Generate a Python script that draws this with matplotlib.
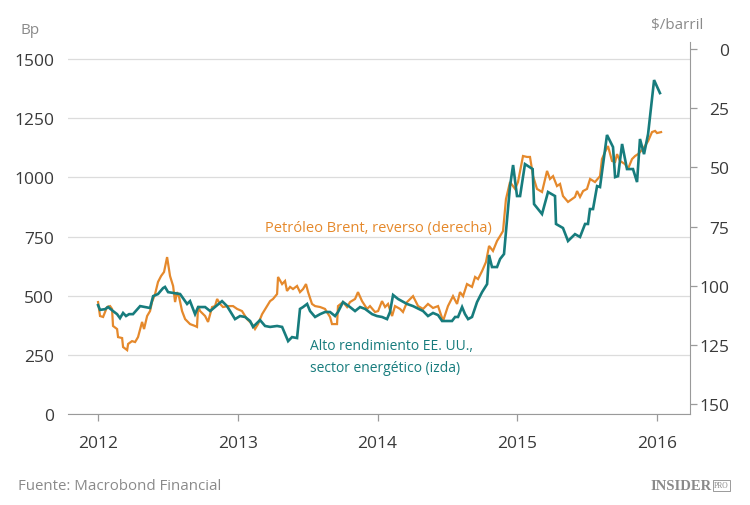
import matplotlib.pyplot as plt
from matplotlib.patches import Rectangle

plt.rcParams['font.family'] = ['Open Sans', 'DejaVu Sans']

# Alto rendimiento EE. UU., sector energético (Bp, eje izquierdo)
hy_t = [2012.00, 2012.014, 2012.050, 2012.072, 2012.107, 2012.136, 2012.157, 2012.179,
        2012.200, 2012.222, 2012.250, 2012.301, 2012.336, 2012.372, 2012.394, 2012.429,
        2012.465, 2012.479, 2012.501, 2012.587, 2012.637, 2012.658, 2012.694, 2012.716,
        2012.766, 2012.802, 2012.887, 2012.923, 2012.980, 2013.016, 2013.052, 2013.088,
        2013.109, 2013.159, 2013.195, 2013.231, 2013.281, 2013.317, 2013.360, 2013.388,
        2013.424, 2013.445, 2013.467, 2013.496, 2013.517, 2013.553, 2013.589, 2013.624,
        2013.660, 2013.696, 2013.717, 2013.753, 2013.803, 2013.839, 2013.875, 2013.911,
        2013.961, 2013.996, 2014.032, 2014.068, 2014.089, 2014.111, 2014.147, 2014.211,
        2014.254, 2014.326, 2014.361, 2014.397, 2014.433, 2014.462, 2014.483, 2014.533,
        2014.555, 2014.576, 2014.605, 2014.626, 2014.648, 2014.676, 2014.712, 2014.748,
        2014.784, 2014.798, 2014.819, 2014.855, 2014.877, 2014.905, 2014.927, 2014.948,
        2014.970, 2014.998, 2015.020, 2015.055, 2015.110, 2015.120, 2015.177, 2015.220,
        2015.270, 2015.277, 2015.327, 2015.363, 2015.413, 2015.449, 2015.485, 2015.506,
        2015.520, 2015.542, 2015.571, 2015.592, 2015.642, 2015.685, 2015.700, 2015.721,
        2015.750, 2015.785, 2015.828, 2015.857, 2015.878, 2015.907, 2015.936, 2015.979,
        2016.021]
hy_v = [460, 440, 443, 452, 435, 422, 405, 427,
        414, 422, 422, 456, 452, 448, 498, 507,
        532, 537, 515, 507, 465, 477, 422, 452,
        452, 435, 477, 456, 401, 414, 410, 393,
        368, 397, 372, 368, 372, 368, 308, 325,
        321, 444, 452, 465, 435, 410, 422, 431,
        431, 414, 431, 473, 452, 435, 452, 444,
        422, 414, 410, 401, 431, 503, 486, 465,
        456, 435, 414, 427, 418, 393, 393, 393,
        410, 410, 452, 422, 401, 410, 473, 515,
        549, 672, 621, 621, 655, 676, 824, 963,
        1052, 921, 921, 1056, 1035, 887, 845, 938,
        921, 803, 786, 731, 760, 748, 803, 803,
        866, 866, 963, 959, 1179, 1128, 1001, 1005,
        1141, 1035, 1035, 980, 1162, 1098, 1183, 1411,
        1356]

# Petróleo Brent ($/barril, eje derecho invertido)
br_t = [2012.000, 2012.014, 2012.036, 2012.064, 2012.086, 2012.100, 2012.107, 2012.136,
        2012.143, 2012.172, 2012.179, 2012.208, 2012.215, 2012.243, 2012.265, 2012.286,
        2012.315, 2012.329, 2012.351, 2012.372, 2012.386, 2012.408, 2012.429, 2012.451,
        2012.472, 2012.494, 2012.515, 2012.537, 2012.551, 2012.565, 2012.580, 2012.601,
        2012.623, 2012.658, 2012.694, 2012.708, 2012.716, 2012.730, 2012.766, 2012.787,
        2012.816, 2012.837, 2012.852, 2012.873, 2012.894, 2012.930, 2012.966, 2012.995,
        2013.030, 2013.066, 2013.102, 2013.123, 2013.145, 2013.174, 2013.209, 2013.231,
        2013.252, 2013.281, 2013.288, 2013.317, 2013.338, 2013.352, 2013.374, 2013.395,
        2013.424, 2013.445, 2013.467, 2013.488, 2013.503, 2013.531, 2013.553, 2013.589,
        2013.624, 2013.660, 2013.674, 2013.710, 2013.717, 2013.753, 2013.782, 2013.803,
        2013.839, 2013.860, 2013.889, 2013.925, 2013.946, 2013.982, 2014.004, 2014.032,
        2014.054, 2014.075, 2014.104, 2014.125, 2014.161, 2014.182, 2014.211, 2014.254,
        2014.290, 2014.326, 2014.361, 2014.397, 2014.433, 2014.469, 2014.504, 2014.540,
        2014.569, 2014.590, 2014.612, 2014.640, 2014.676, 2014.698, 2014.719, 2014.748,
        2014.776, 2014.798, 2014.826, 2014.855, 2014.877, 2014.898, 2014.919, 2014.948,
        2014.984, 2015.005, 2015.041, 2015.070, 2015.091, 2015.113, 2015.141, 2015.177,
        2015.213, 2015.234, 2015.256, 2015.284, 2015.306, 2015.327, 2015.363, 2015.392,
        2015.413, 2015.428, 2015.449, 2015.471, 2015.499, 2015.521, 2015.556, 2015.592,
        2015.606, 2015.628, 2015.649, 2015.678, 2015.700, 2015.714, 2015.735, 2015.771,
        2015.792, 2015.821, 2015.843, 2015.864, 2015.900, 2015.936, 2015.964, 2015.986,
        2016.000, 2016.029]
br_v = [106.9, 112.8, 113.2, 109.0, 108.6, 109.8, 117.0, 118.3,
        121.7, 122.1, 125.9, 127.2, 124.6, 123.4, 123.8, 121.7,
        115.3, 118.3, 112.8, 110.7, 106.9, 103.5, 98.4, 95.9,
        94.2, 87.9, 95.9, 100.1, 106.9, 102.7, 104.8, 110.7,
        114.1, 116.2, 117.0, 117.4, 108.6, 110.7, 112.8, 115.3,
        109.0, 108.6, 105.6, 107.7, 109.0, 108.6, 108.6, 109.8,
        110.7, 114.1, 116.2, 118.3, 116.2, 112.0, 108.6, 106.5,
        105.6, 103.5, 96.3, 99.3, 98.0, 102.2, 100.5, 101.4,
        100.1, 102.7, 101.4, 99.3, 102.7, 107.7, 108.6, 109.0,
        109.8, 113.2, 116.2, 116.2, 108.6, 106.9, 109.0, 106.9,
        105.6, 102.7, 106.5, 109.8, 108.6, 111.1, 110.7, 106.5,
        109.0, 107.7, 112.8, 108.6, 109.8, 111.1, 106.9, 104.4,
        108.6, 109.8, 107.7, 109.4, 108.6, 114.9, 108.6, 104.4,
        107.7, 102.7, 104.4, 99.3, 100.5, 96.3, 97.2, 93.8,
        90.0, 83.2, 85.3, 81.1, 79.0, 76.9, 63.4, 56.2,
        59.1, 56.2, 45.2, 45.6, 45.6, 53.7, 59.1, 60.4,
        51.5, 54.9, 53.7, 57.9, 57.0, 62.1, 64.6, 63.4,
        62.5, 60.0, 62.5, 60.0, 59.1, 54.9, 56.2, 53.7,
        46.5, 43.5, 41.0, 47.3, 47.7, 44.4, 47.3, 48.6,
        50.7, 46.5, 45.2, 44.4, 42.2, 38.9, 35.1, 34.6,
        35.5, 35.1]

years = [2012, 2013, 2014, 2015, 2016]
left_ticks = [0, 250, 500, 750, 1000, 1250, 1500]
right_ticks = [0, 25, 50, 75, 100, 125, 150]

orange = '#E5892C'
teal = '#177C7D'
txt = '#3a3a3a'
grey = '#8a8a8a'

fig = plt.figure(figsize=(7.5, 5.06), dpi=100)
ax = fig.add_axes([0.0907, 0.1798, 0.8293, 0.7352])
ax2 = ax.twinx()
ax3 = ax.twinx()

ax.set_xlim(2011.785, 2016.236)
ax.set_ylim(0, 1571.8)
ax2.set_ylim(154.2, -2.96)
ax3.set_ylim(0, 1571.8)

ax2.plot(br_t, br_v, color=orange, lw=1.6, solid_joinstyle='miter')
ax3.plot(hy_t, hy_v, color=teal, lw=1.9, solid_joinstyle='miter')
ax3.axis('off')

ax.set_yticks(left_ticks)
ax.set_xticks(years)
ax.set_xticklabels([str(y) for y in years])
ax.grid(axis='y', color='#dcdcdc', lw=0.9)
ax.set_axisbelow(True)
ax.tick_params(axis='y', length=0, pad=10, labelsize=12.5, labelcolor=txt)
ax.tick_params(axis='x', length=5, width=0.9, color='#9a9a9a', pad=10,
               labelsize=12.5, labelcolor=txt)
for s in ['left', 'top', 'right']:
    ax.spines[s].set_visible(False)
ax.spines['bottom'].set_color('#9a9a9a')

ax2.set_yticks(right_ticks)
ax2.tick_params(axis='y', length=5, width=0.9, color='#9a9a9a', pad=23.5,
                labelsize=12.5, labelcolor=txt)
for lab in ax2.get_yticklabels():
    lab.set_horizontalalignment('right')
for s in ['left', 'top', 'bottom']:
    ax2.spines[s].set_visible(False)
ax2.spines['right'].set_color('#9a9a9a')

fig.text(20 / 750, 1 - 30 / 506, 'Bp', fontsize=11, color=grey, va='center')
fig.text(703 / 750, 1 - 25 / 506, '$/barril', fontsize=11, color=grey,
         va='center', ha='right')

ax.text(2013.195, 790, 'Petróleo Brent, reverso (derecha)', color=orange,
        fontsize=10.5, va='center')
ax.text(2013.517, 291, 'Alto rendimiento EE. UU.,', color=teal,
        fontsize=10, va='center')
ax.text(2013.517, 198, 'sector energético (izda)', color=teal,
        fontsize=10, va='center')

fig.text(18 / 750, 1 - 487 / 506, 'Fuente: Macrobond Financial', fontsize=10.8,
         color=grey, va='center')
fig.text(712 / 750, 1 - 487 / 506, 'INSIDER', fontsize=10.5, color=grey,
         va='center', ha='right', family=['Liberation Serif', 'DejaVu Serif'],
         weight='bold')
fig.text(714 / 750, 1 - 486 / 506, 'PRO', fontsize=5.5, color=grey,
         va='center', ha='left', family=['Liberation Serif', 'DejaVu Serif'])
fig.patches.append(Rectangle((713 / 750, 1 - 492 / 506), 17 / 750, 11 / 506,
                             transform=fig.transFigure, fill=False,
                             edgecolor=grey, lw=0.6))

fig.savefig('out.png', dpi=100)
